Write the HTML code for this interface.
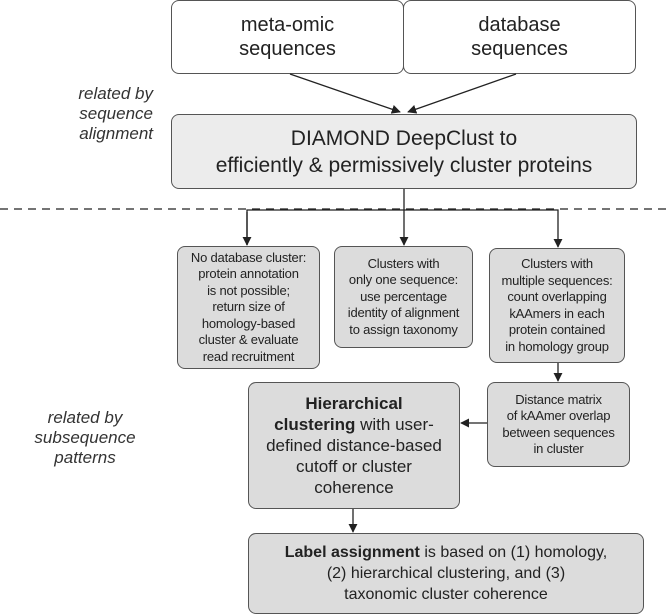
<!DOCTYPE html>
<html><head><style>
body{margin:0;width:666px;height:615px;background:#fff;position:relative;font-family:"Liberation Sans",sans-serif;color:#222;overflow:hidden}
.b{position:absolute;box-sizing:border-box;border:1.3px solid #555;border-radius:8px;display:flex;align-items:center;justify-content:center;text-align:center}
.g{background:#dcdcdc}
.s{font-size:13px;line-height:16.5px;letter-spacing:-0.2px}
.i{position:absolute;font-style:italic;font-size:17px;line-height:20px;color:#333}
</style></head><body>
<div class="b" style="left:171px;top:0;width:233px;height:74px;font-size:20px;line-height:24px">meta-omic<br>sequences</div>
<div class="b" style="left:403px;top:0;width:233px;height:74px;font-size:20px;line-height:24px">database<br>sequences</div>
<div class="b" style="left:171px;top:114px;width:466px;height:75px;background:#ececec;font-size:21px;line-height:27px">DIAMOND DeepClust to<br>efficiently &amp; permissively cluster proteins</div>
<div class="i" style="left:0;width:153px;top:84px;text-align:right">related by sequence<br>alignment</div>
<div class="i" style="left:20px;width:130px;top:408px;text-align:center;line-height:20px">related by<br>subsequence<br>patterns</div>
<div class="b g s" style="left:177px;top:246px;width:143px;height:123px">No database cluster:<br>protein annotation<br>is not possible;<br>return size of<br>homology-based<br>cluster &amp; evaluate<br>read recruitment</div>
<div class="b g s" style="left:334px;top:246px;width:139px;height:102px">Clusters with<br>only one sequence:<br>use percentage<br>identity of alignment<br>to assign taxonomy</div>
<div class="b g s" style="left:489px;top:248px;width:136px;height:115px">Clusters with<br>multiple sequences:<br>count overlapping<br>kAAmers in each<br>protein contained<br>in homology group</div>
<div class="b g s" style="left:487px;top:382px;width:143px;height:85px">Distance matrix<br>of kAAmer overlap<br>between sequences<br>in cluster</div>
<div class="b g" style="left:248px;top:382px;width:212px;height:127px;font-size:17px;line-height:21px"><div><b>Hierarchical<br>clustering</b> with user-<br>defined distance-based<br>cutoff or cluster<br>coherence</div></div>
<div class="b g" style="left:248px;top:533px;width:396px;height:81px;font-size:16px;line-height:21px"><div><b>Label assignment</b> is based on (1) homology,<br>(2) hierarchical clustering, and (3)<br>taxonomic cluster coherence</div></div>
<svg width="666" height="615" style="position:absolute;left:0;top:0" fill="none" stroke="#222" stroke-width="1.3">
<defs><marker id="a" viewBox="0 0 10 10" refX="9" refY="5" markerWidth="7" markerHeight="7" orient="auto"><path d="M0,0L10,5L0,10z" fill="#222" stroke="none"/></marker></defs>
<line x1="290" y1="74" x2="400" y2="112" marker-end="url(#a)"/>
<line x1="516" y1="74" x2="408" y2="112" marker-end="url(#a)"/>
<line x1="0" y1="209" x2="666" y2="209" stroke-dasharray="8,6"/>
<line x1="404" y1="189" x2="404" y2="245" marker-end="url(#a)"/>
<polyline points="247,245 247,210 558,210 558,247" marker-end="url(#a)"/>
<line x1="247" y1="212" x2="247" y2="245" marker-end="url(#a)"/>
<line x1="558" y1="363" x2="558" y2="381" marker-end="url(#a)"/>
<line x1="487" y1="423" x2="461" y2="423" marker-end="url(#a)"/>
<line x1="353" y1="509" x2="353" y2="532" marker-end="url(#a)"/>
</svg>
</body></html>
